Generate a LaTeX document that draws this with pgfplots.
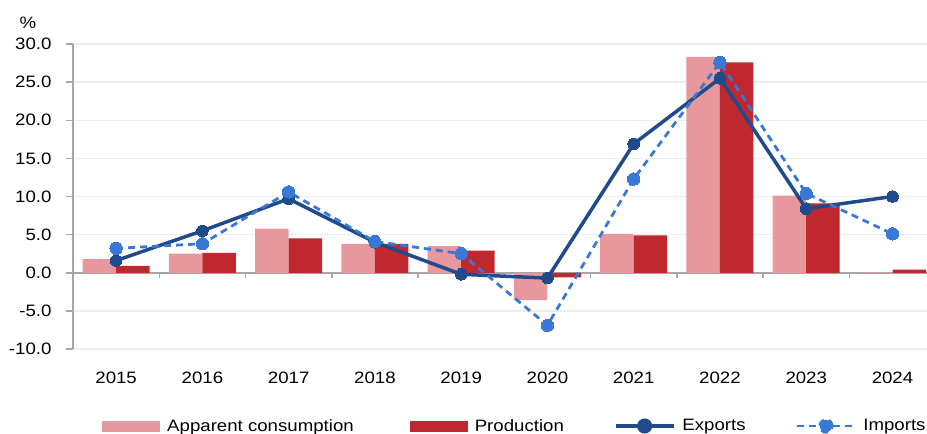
\documentclass[border=0pt]{standalone}
\usepackage{fontspec}
\setmainfont{Liberation Sans}[FakeStretch=1.13]
\usepackage{pgfplots}
\usepackage{pgfplotstable}
\pgfplotsset{compat=1.18}
\definecolor{consum}{HTML}{E8989D}
\definecolor{prod}{HTML}{C0282F}
\definecolor{expo}{HTML}{1F4A8C}
\definecolor{impo}{HTML}{3A78D6}
\definecolor{gridc}{HTML}{EDEDED}
\definecolor{axc}{HTML}{A6A6A6}
\pgfplotstableread{
x cons prod exp imp
0 1.8 0.9 1.6 3.2
1 2.5 2.6 5.5 3.8
2 5.8 4.5 9.7 10.6
3 3.8 3.8 4.0 4.1
4 3.5 2.9 -0.2 2.5
5 -3.6 -0.6 -0.7 -6.9
6 5.1 4.9 16.9 12.3
7 28.3 27.6 25.5 27.6
8 10.1 9.1 8.4 10.4
9 0.05 0.4 10.0 5.1
}\data
\newcommand{\fs}{\fontsize{16.5bp}{19bp}\selectfont}
\pgfplotsset{
  consleg/.style={legend image code/.code={\fill[consum] (0bp,-5.5bp) rectangle (58bp,5.5bp);}},
  prodleg/.style={legend image code/.code={\fill[prod] (0bp,-5.5bp) rectangle (58bp,5.5bp);}},
  expleg/.style={legend image code/.code={
    \draw[expo, line width=3.5bp] (0bp,0bp) -- (58bp,0bp);
    \fill[expo] (29bp,0bp) circle (5.8bp);}},
  impleg/.style={legend image code/.code={
    \draw[impo, line width=2.8bp, dash pattern=on 7bp off 5bp] (0bp,0bp) -- (58bp,0bp);
    \fill[impo] (29bp,0bp) circle (6.2bp);}},
}
\begin{document}
\begin{tikzpicture}
\begin{axis}[
  scale only axis,
  width=854bp, height=305bp,
  xmin=-0.5, xmax=9.4,
  ymin=-10, ymax=30,
  ytick={-10,-5,...,30},
  xtick={0,...,9},
  xticklabels={2015,2016,2017,2018,2019,2020,2021,2022,2023,2024},
  axis x line=bottom,
  axis y line=left,
  x axis line style={draw=none},
  y axis line style={draw=axc, line width=1.5bp, -},
  x tick style={draw=none},
  y tick style={draw=axc, line width=1.5bp},
  tick align=outside,
  major tick length=7bp,
  ymajorgrids,
  grid style={draw=gridc, line width=1.5bp},
  yticklabel style={font=\fs, xshift=-11bp},
  xticklabel style={font=\fs, yshift=-12bp},
  /pgf/number format/assume math mode=true,
  yticklabel={\pgfmathprintnumber[fixed,fixed zerofill,precision=1]{\tick}},
  clip=false,
  legend columns=4,
  legend style={draw=none, fill=none, font=\fs, at={(0.034,-0.2525)}, anchor=west,
    inner sep=0pt, /tikz/every odd column/.append style={column sep=5bp},
    /tikz/column 2/.style={column sep=54bp},
    /tikz/column 4/.style={column sep=48bp},
    /tikz/column 6/.style={column sep=48bp}},
  legend cell align=left,
]
\draw[axc, line width=1.5bp] (axis cs:-0.5,0) -- (axis cs:9.4,0);
\draw[axc, line width=1.5bp] (axis cs:0.5,0) -- ([yshift=-5bp]axis cs:0.5,0);
\draw[axc, line width=1.5bp] (axis cs:1.5,0) -- ([yshift=-5bp]axis cs:1.5,0);
\draw[axc, line width=1.5bp] (axis cs:2.5,0) -- ([yshift=-5bp]axis cs:2.5,0);
\draw[axc, line width=1.5bp] (axis cs:3.5,0) -- ([yshift=-5bp]axis cs:3.5,0);
\draw[axc, line width=1.5bp] (axis cs:4.5,0) -- ([yshift=-5bp]axis cs:4.5,0);
\draw[axc, line width=1.5bp] (axis cs:5.5,0) -- ([yshift=-5bp]axis cs:5.5,0);
\draw[axc, line width=1.5bp] (axis cs:6.5,0) -- ([yshift=-5bp]axis cs:6.5,0);
\draw[axc, line width=1.5bp] (axis cs:7.5,0) -- ([yshift=-5bp]axis cs:7.5,0);
\draw[axc, line width=1.5bp] (axis cs:8.5,0) -- ([yshift=-5bp]axis cs:8.5,0);
\addplot[ybar, bar width=33.5bp, bar shift=-16.75bp, fill=consum, draw=none, consleg]
  table[x=x,y=cons]{\data};
\addlegendentry{Apparent consumption}
\addplot[ybar, bar width=33.5bp, bar shift=16.75bp, fill=prod, draw=none, prodleg]
  table[x=x,y=prod]{\data};
\addlegendentry{Production}
\addplot[expo, line width=3.5bp, mark=*, mark size=5.8bp, mark options={solid, fill=expo, draw=expo, line width=0pt}, expleg]
  table[x=x,y=exp]{\data};
\addlegendentry{Exports}
\addplot[impo, line width=2.8bp, dash pattern=on 7bp off 5bp, mark=*, mark size=6.2bp, mark options={solid, fill=impo, draw=impo, line width=0pt}, impleg]
  table[x=x,y=imp]{\data};
\addlegendentry{Imports}
\node[font=\fs] at (rel axis cs:-0.0527,1.07) {\%};
\end{axis}
\pgfresetboundingbox
\path ([xshift=-73bp,yshift=-85bp]current axis.south west) rectangle ([yshift=44bp]current axis.north east);
\end{tikzpicture}
\end{document}
